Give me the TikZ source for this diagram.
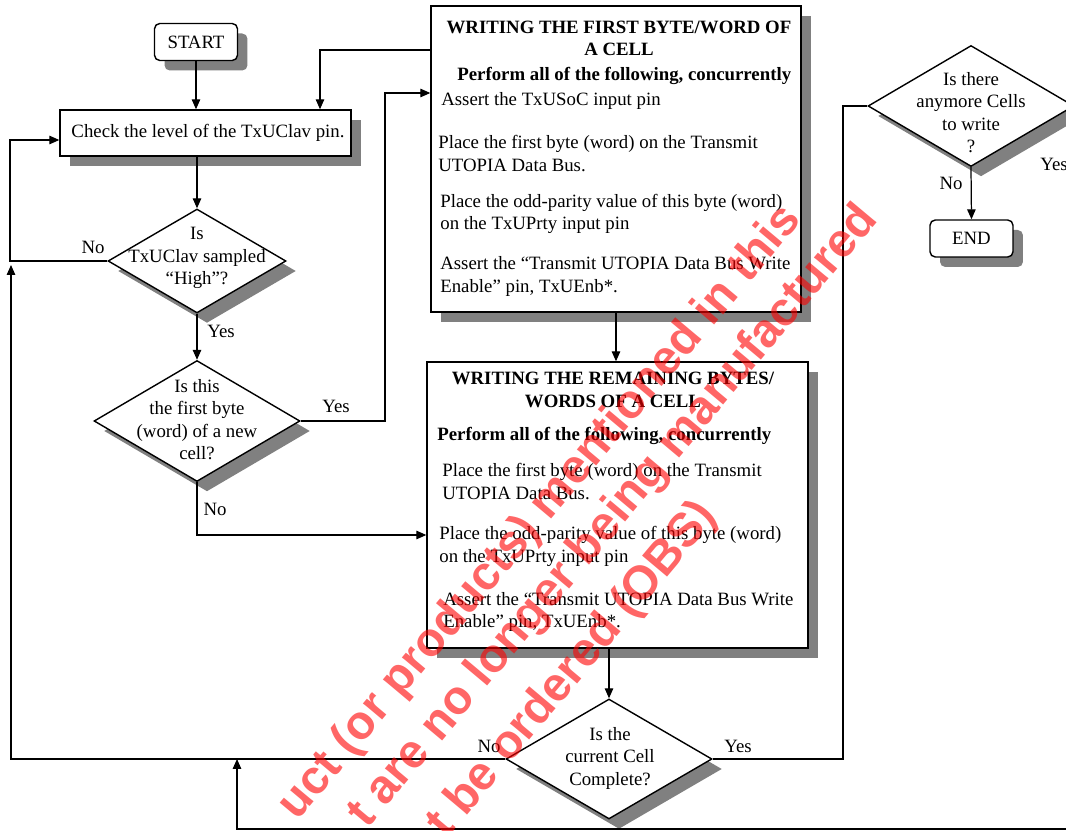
\documentclass[tikz,border=0pt]{standalone}
\usepackage{fontspec}
\setmainfont{Liberation Serif}
\newfontfamily\markfont{Liberation Sans}
\usetikzlibrary{arrows.meta,shapes.geometric,shadows}

\tikzset{
	flow/.style={line width=0.7pt, -{Triangle[length=0.2cm, width=0.17cm]}},
	wire/.style={line width=0.7pt},
	boxshadow/.style={drop shadow={shadow xshift=0.2cm, shadow yshift=-0.2cm, fill=black!50, opacity=1}},
	stepbox/.style={draw, line width=0.8pt, fill=white, boxshadow, inner sep=0pt},
	termbox/.style={stepbox, rounded corners=3pt, minimum width=1.66cm, minimum height=0.74cm},
	decide/.style={draw, diamond, line width=0.8pt, fill=white, boxshadow, inner sep=0pt},
	txt/.style={inner sep=0pt, align=left, font=\fontsize{10.7}{12.8}\selectfont},
	ctxt/.style={txt, align=center},
	htxt/.style={ctxt, font=\fontsize{10.7}{12.8}\selectfont\bfseries},
	wmark/.style={inner sep=0pt, rotate=50, anchor=base, text=red, text opacity=0.6, font=\fontsize{27}{30}\selectfont\markfont\bfseries},
}

\begin{document}
\begin{tikzpicture}[x=0.02cm, y=-0.02cm]
			%%%%% START %%%%%
			\useasboundingbox (0,0) rectangle (1066,831);
			\clip (0,0) rectangle (1066,831);
			
			% left column
			\node[termbox, font=\fontsize{10.7}{12.8}\selectfont] (start) at (196,42) {START};
			\node[stepbox, minimum width=5.82cm, minimum height=0.92cm, font=\fontsize{10.7}{12.8}\selectfont] (check) at (205.5,133) {\hspace*{0.1cm}Check the level of the TxUClav pin.};
			
			\node[decide, minimum width=3.56cm, minimum height=2.08cm] (high) at (197,261) {};
			\node[ctxt] (hight) at (197,258) {Is\\TxUClav sampled\\``High''?};
			
			\node[decide, minimum width=4.12cm, minimum height=2.42cm] (first) at (197,421) {};
			\node[ctxt] (firstt) at (197,419.5) {Is this\\the first byte\\(word) of a new\\cell?};
			
			% first byte box
			\node[stepbox, minimum width=7.4cm, minimum height=6.12cm] (wfirst) at (616,159) {};
			\node[htxt] (wfirsth) at (619,38.5) {WRITING THE FIRST BYTE/WORD OF\\A CELL};
			\node[txt, anchor=west, font=\fontsize{10.7}{12.8}\selectfont\bfseries] (wfirstp) at (457,76) {Perform all of the following, concurrently};
			\node[txt, anchor=west] (wfirsta) at (441,101) {Assert the TxUSoC input pin};
			\node[txt, anchor=west] (wfirstb) at (438,153.5) {Place the first byte (word) on the Transmit\\UTOPIA Data Bus.};
			\node[txt, anchor=west] (wfirstc) at (440,214) {Place the odd-parity value of this byte (word)\\on the TxUPrty input pin};
			\node[txt, anchor=west] (wfirstd) at (440,276.5) {Assert the ``Transmit UTOPIA Data Bus Write\\Enable'' pin, TxUEnb*.};
			
			% remaining bytes box
			\node[stepbox, minimum width=7.62cm, minimum height=5.72cm] (wrest) at (617.5,505) {};
			\node[htxt] (wresth) at (613,390) {WRITING THE REMAINING BYTES/\\WORDS OF A CELL};
			\node[txt, anchor=west, font=\fontsize{10.7}{12.8}\selectfont\bfseries] (wrestp) at (437,436) {Perform all of the following, concurrently};
			\node[txt, anchor=west] (wresta) at (442,481.5) {Place the first byte (word) on the Transmit\\UTOPIA Data Bus.};
			\node[txt, anchor=west] (wrestb) at (439,546.5) {Place the odd-parity value of this byte (word)\\on the TxUPrty input pin};
			\node[txt, anchor=west] (wrestc) at (443,612) {Assert the ``Transmit UTOPIA Data Bus Write\\Enable'' pin, TxUEnb*.};
			
			\node[decide, minimum width=4.12cm, minimum height=2.4cm] (done) at (609,759) {};
			\node[ctxt] (donet) at (610,758) {Is the\\current Cell\\Complete?};
			
			% right column
			\node[decide, minimum width=4.12cm, minimum height=2.42cm] (more) at (971,106) {};
			\node[ctxt] (moret) at (971,112.5) {Is there\\anymore Cells\\to write\\?};
			\node[termbox, font=\fontsize{10.7}{12.8}\selectfont] (end) at (971.5,238.5) {END};
			
			% turning points
			\coordinate (loopup) at (10,140);
			\coordinate (yesup) at (385,93);
			\coordinate (noin) at (197,535);
			\coordinate (back) at (320,50);
			\coordinate (rettip) at (11,265);
			\coordinate (upright) at (843,106);
			\coordinate (botright) at (1066,829);
			\coordinate (botleft) at (237,829);
			
			% connectors
			\draw[flow] (start) -- (start |- check.north);
			\draw[flow] (high.north |- check.south) -- (high.north);
			\draw[flow] (high.south) -- (first.north);
			\draw[flow] (high.west) -| (loopup) -- (check.west |- loopup);
			\draw[flow] (first.east) -| (yesup) -- (wfirst.west |- yesup);
			\draw[flow] (first.south) -- (noin) -- (wrest.west |- noin);
			\draw[flow] (wfirst.west |- back) -- (back) -- (back |- check.north);
			\draw[flow] (wfirst.south) -- (wfirst.south |- wrest.north);
			\draw[flow] (done.north |- wrest.south) -- (done.north);
			\draw[flow] (done.west) -| (rettip);
			\draw[wire] (done.east) -| (upright) -- (more.west);
			\draw[flow] (more.south) -- (end.north);
			\draw[flow] (botright) -- (botleft) -- (botleft |- done.west);
			
			% branch labels
			\node[txt] (highno) at (93,247) {No};
			\node[txt] (highyes) at (221,331) {Yes};
			\node[txt] (firstyes) at (336,406) {Yes};
			\node[txt] (firstno) at (215,509) {No};
			\node[txt] (doneno) at (489,746) {No};
			\node[txt] (doneyes) at (738,746) {Yes};
			\node[txt] (moreno) at (951,183) {No};
			\node[txt, anchor=west] (moreyes) at (1040,164) {Yes};
			
			% overprint
			\node[wmark] (mark1) at (550,521) {uct (or products) mentioned in this};
			\node[wmark] (mark2) at (623,525) {t are no longer being manufactured};
			\node[wmark] (mark3) at (582,678) {t be ordered (OBS)};
			%%%%% END %%%%%
		\end{tikzpicture}
\end{document}
